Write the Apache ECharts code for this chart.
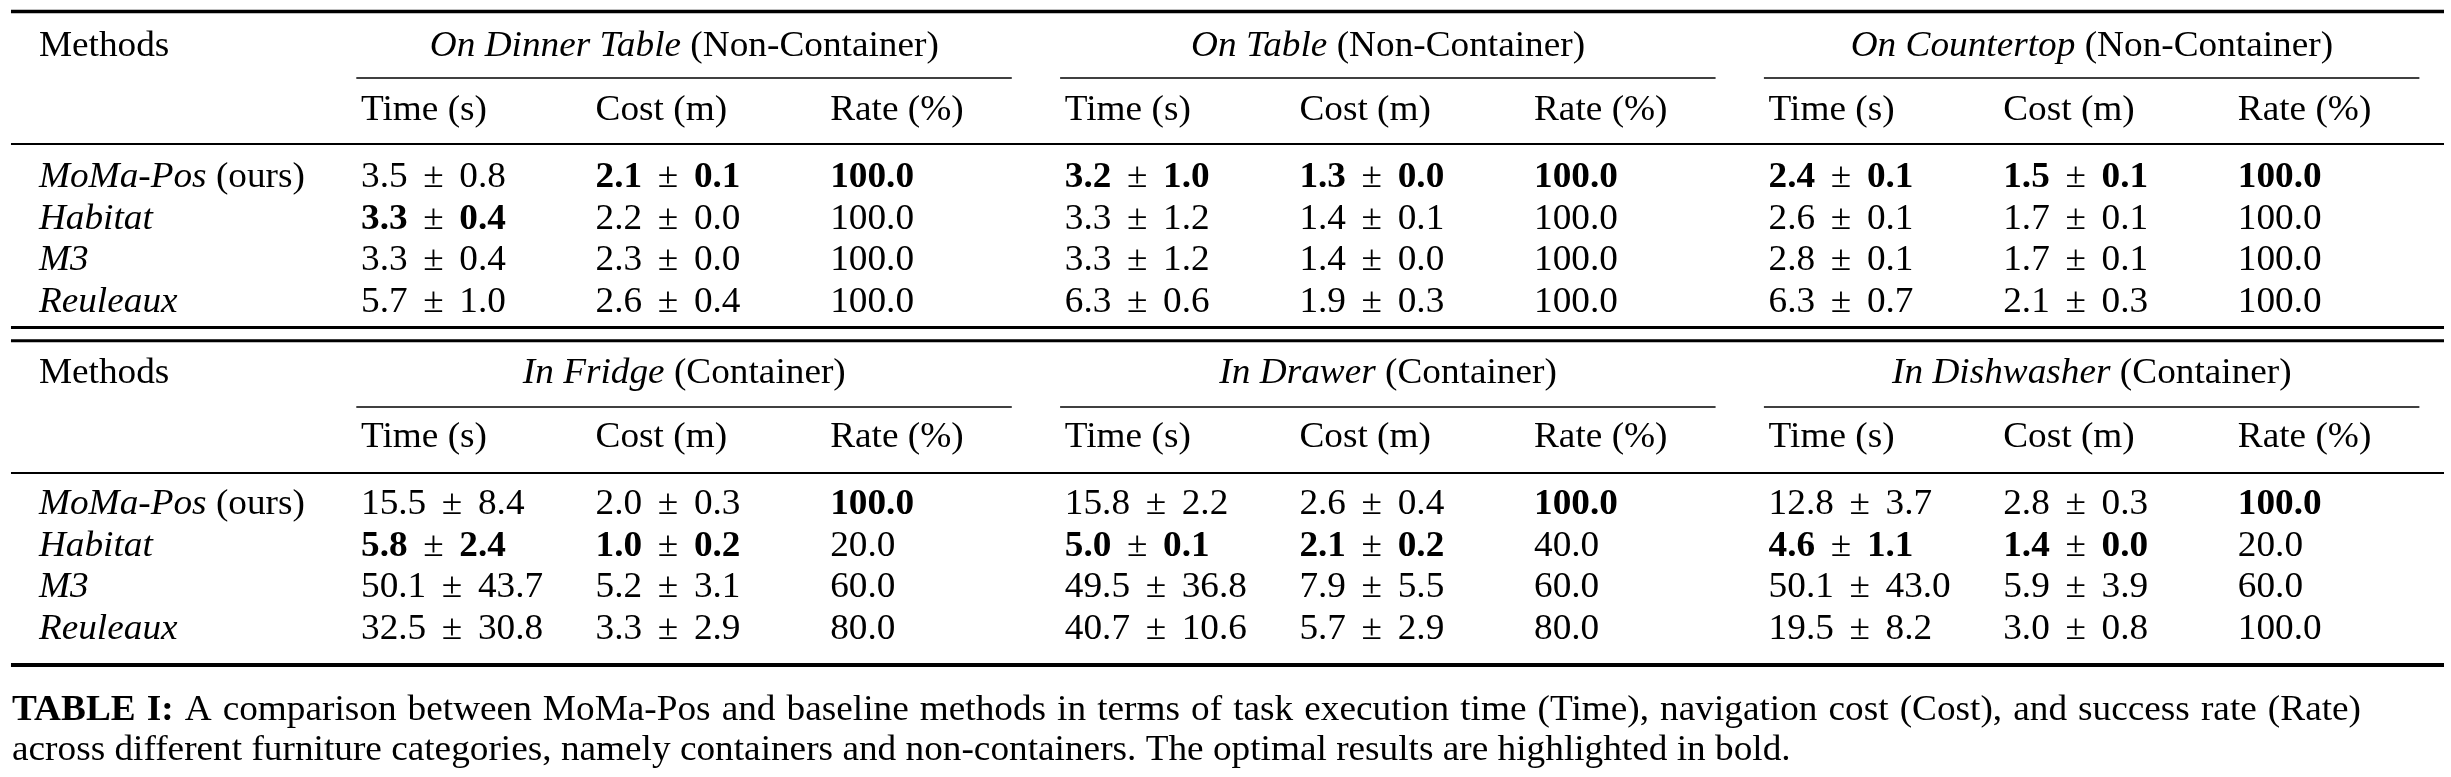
<!DOCTYPE html>
<html>
<head>
<meta charset="utf-8">
<script src="https://cdn.jsdelivr.net/npm/echarts@6/dist/echarts.min.js"></script>
<style>
  html, body { margin: 0; padding: 0; background: #fff; }
  #main { width: 2451px; height: 777px; }
</style>
</head>
<body>
<div id="main"></div>
<script>
// ---------------- table data ----------------
const methods = ['MoMa-Pos', 'Habitat', 'M3', 'Reuleaux'];
const methodNote = ['(ours)', '', '', ''];
const metrics = ['Time (s)', 'Cost (m)', 'Rate (%)'];

const nonContainerScenes = ['On Dinner Table', 'On Table', 'On Countertop'];
const containerScenes = ['In Fridge', 'In Drawer', 'In Dishwasher'];

// [mean, std] per method
const dinnerTableTime = [[3.5, 0.8], [3.3, 0.4], [3.3, 0.4], [5.7, 1.0]];
const dinnerTableCost = [[2.1, 0.1], [2.2, 0.0], [2.3, 0.0], [2.6, 0.4]];
const dinnerTableRate = [100, 100, 100, 100];

const onTableTime = [[3.2, 1.0], [3.3, 1.2], [3.3, 1.2], [6.3, 0.6]];
const onTableCost = [[1.3, 0.0], [1.4, 0.1], [1.4, 0.0], [1.9, 0.3]];
const onTableRate = [100, 100, 100, 100];

const countertopTime = [[2.4, 0.1], [2.6, 0.1], [2.8, 0.1], [6.3, 0.7]];
const countertopCost = [[1.5, 0.1], [1.7, 0.1], [1.7, 0.1], [2.1, 0.3]];
const countertopRate = [100, 100, 100, 100];

const fridgeTime = [[15.5, 8.4], [5.8, 2.4], [50.1, 43.7], [32.5, 30.8]];
const fridgeCost = [[2.0, 0.3], [1.0, 0.2], [5.2, 3.1], [3.3, 2.9]];
const fridgeRate = [100, 20, 60, 80];

const drawerTime = [[15.8, 2.2], [5.0, 0.1], [49.5, 36.8], [40.7, 10.6]];
const drawerCost = [[2.6, 0.4], [2.1, 0.2], [7.9, 5.5], [5.7, 2.9]];
const drawerRate = [100, 40, 60, 80];

const dishwasherTime = [[12.8, 3.7], [4.6, 1.1], [50.1, 43.0], [19.5, 8.2]];
const dishwasherCost = [[2.8, 0.3], [1.4, 0.0], [5.9, 3.9], [3.0, 0.8]];
const dishwasherRate = [100, 20, 60, 100];

// row of the bold (best) entry for each scene, in scene order
const boldTime = [1, 0, 0, 1, 1, 1];
const boldCost = [0, 0, 0, 1, 1, 1];
const boldRate = [0, 0, 0, 0, 0, 0];

const captionLead = 'TABLE I:';
const captionLine1 = 'A comparison between MoMa-Pos and baseline methods in terms of task execution time (Time), navigation cost (Cost), and success rate (Rate)';
const captionLine2 = 'across different furniture categories, namely containers and non-containers. The optimal results are highlighted in bold.';

// ---------------- layout ----------------
const FONT = '"Liberation Serif", "Times New Roman", serif';
const FS = 35.5;      // font size
const SX = 1.05;      // the scan is a touch wider than tall
const COL0 = 361, COL_STEP = 234.6, ROW_STEP = 41.5;
const ROW0 = [178, 505];          // first data row of each block
const LABEL_COL = -1.373;         // x of the Methods column, in column units
const HEAD_ROW = -3.157, SUB_ROW = -1.614;
const RULE_X0 = -1.492, RULE_X1 = 8.879;
const blockRules = [
  { top: -4.012, topW: 3.5, cmid: -2.41, mid: -0.819, bottom: 3.602, bottomW: 3 },
  { top: -3.959, topW: 3, cmid: -2.361, mid: -0.771, bottom: 3.855, bottomW: 3.8 }
];

const rich = {
  i: { fontFamily: FONT, fontSize: FS, fontStyle: 'italic' },
  b: { fontFamily: FONT, fontSize: FS, fontWeight: 'bold' },
  pm: { fontFamily: FONT, fontSize: FS, padding: [0, 6, 0, 6] }
};

function fmtPair(p, bold) {
  const m = p[0].toFixed(1), s = p[1].toFixed(1);
  return bold ? '{b|' + m + '}{pm| ± }{b|' + s + '}' : m + '{pm| ± }' + s;
}

function buildBlock(b, scenes, suffix, times, costs, rates) {
  const items = [];
  const R = blockRules[b];
  items.push({ kind: 'rule', x0: RULE_X0, x1: RULE_X1, y: R.top, w: R.topW });
  items.push({ kind: 'rule', x0: RULE_X0, x1: RULE_X1, y: R.mid, w: 2 });
  items.push({ kind: 'rule', x0: RULE_X0, x1: RULE_X1, y: R.bottom, w: R.bottomW });
  items.push({ kind: 'text', x: LABEL_COL, y: HEAD_ROW, text: 'Methods', align: 'left' });
  methods.forEach(function (name, r) {
    items.push({ kind: 'text', x: LABEL_COL, y: r, align: 'left',
      text: '{i|' + name + '}' + (methodNote[r] ? ' ' + methodNote[r] : '') });
  });
  scenes.forEach(function (scene, g) {
    const si = b * 3 + g;
    const c = g * 3;
    items.push({ kind: 'text', x: c + 1.378, y: HEAD_ROW, align: 'center',
      text: '{i|' + scene + '} (' + suffix + ')' });
    items.push({ kind: 'rule', x0: c - 0.02, x1: c + 2.774, y: R.cmid, w: 1.6 });
    metrics.forEach(function (m, k) {
      items.push({ kind: 'text', x: c + k, y: SUB_ROW, text: m, align: 'left' });
    });
    methods.forEach(function (name, r) {
      items.push({ kind: 'text', x: c, y: r, align: 'left', text: fmtPair(times[g][r], boldTime[si] === r) });
      items.push({ kind: 'text', x: c + 1, y: r, align: 'left', text: fmtPair(costs[g][r], boldCost[si] === r) });
      const rt = rates[g][r].toFixed(1);
      items.push({ kind: 'text', x: c + 2, y: r, align: 'left', text: boldRate[si] === r ? '{b|' + rt + '}' : rt });
    });
  });
  return items;
}

const blocks = [
  buildBlock(0, nonContainerScenes, 'Non-Container',
    [dinnerTableTime, onTableTime, countertopTime],
    [dinnerTableCost, onTableCost, countertopCost],
    [dinnerTableRate, onTableRate, countertopRate]),
  buildBlock(1, containerScenes, 'Container',
    [fridgeTime, drawerTime, dishwasherTime],
    [fridgeCost, drawerCost, dishwasherCost],
    [fridgeRate, drawerRate, dishwasherRate])
];

function makeSeries(b) {
  const items = blocks[b];
  return {
    type: 'custom',
    coordinateSystem: 'cartesian2d',
    xAxisIndex: b,
    yAxisIndex: b,
    silent: true,
    data: items.map(function (d) { return [d.x !== undefined ? d.x : d.x0, d.y, d.x1 !== undefined ? d.x1 : d.x]; }),
    renderItem: function (params, api) {
      const d = items[params.dataIndex];
      if (d.kind === 'rule') {
        const p0 = api.coord([api.value(0), api.value(1)]);
        const p1 = api.coord([api.value(2), api.value(1)]);
        return {
          type: 'line',
          shape: { x1: p0[0], y1: p0[1], x2: p1[0], y2: p1[1] },
          style: { stroke: '#000', lineWidth: d.w }
        };
      }
      const p = api.coord([api.value(0), api.value(1)]);
      return {
        type: 'text',
        x: p[0],
        y: p[1],
        scaleX: SX,
        style: {
          text: d.text,
          rich: rich,
          fontFamily: FONT,
          fontSize: FS,
          fill: '#000',
          align: d.align,
          verticalAlign: 'middle'
        }
      };
    }
  };
}

// ---------------- caption (line 1 is justified) ----------------
const CAP_L = 12, CAP_R = 2361, CAP_Y = [711, 751];
const measureCtx = document.createElement('canvas').getContext('2d');
function textWidth(t, weight) {
  measureCtx.font = (weight || 'normal') + ' ' + FS + 'px ' + FONT;
  return measureCtx.measureText(t).width * SX;
}
const capWords = captionLead.split(' ').map(function (w) { return { t: w, bold: true }; })
  .concat(captionLine1.split(' ').map(function (w) { return { t: w, bold: false }; }));
capWords.forEach(function (w) { w.width = textWidth(w.t, w.bold ? 'bold' : 'normal'); });
const capSum = capWords.reduce(function (s, w) { return s + w.width; }, 0);
const capGap = (CAP_R - CAP_L - capSum) / (capWords.length - 1);
const captionGraphics = [];
let cx = CAP_L;
capWords.forEach(function (w) {
  captionGraphics.push({
    type: 'text', x: cx, y: CAP_Y[0], scaleX: SX, silent: true,
    style: { text: w.t, fontFamily: FONT, fontSize: FS, fontWeight: w.bold ? 'bold' : 'normal',
      fill: '#000', verticalAlign: 'middle' }
  });
  cx += w.width + capGap;
});
captionGraphics.push({
  type: 'text', x: CAP_L, y: CAP_Y[1], scaleX: SX, silent: true,
  style: { text: captionLine2, fontFamily: FONT, fontSize: FS, fill: '#000', verticalAlign: 'middle' }
});

// ---------------- chart ----------------
const chart = echarts.init(document.getElementById('main'), null, { renderer: 'canvas' });
chart.setOption({
  backgroundColor: '#fff',
  animation: false,
  grid: [0, 1].map(function (b) {
    return { left: COL0, top: ROW0[b] - ROW_STEP / 2, width: 8 * COL_STEP, height: 4 * ROW_STEP };
  }),
  xAxis: [0, 1].map(function (b) {
    return { gridIndex: b, type: 'value', min: 0, max: 8, show: false };
  }),
  yAxis: [0, 1].map(function (b) {
    return { gridIndex: b, type: 'value', min: -0.5, max: 3.5, inverse: true, show: false };
  }),
  series: [makeSeries(0), makeSeries(1)],
  graphic: captionGraphics
});
</script>
</body>
</html>
